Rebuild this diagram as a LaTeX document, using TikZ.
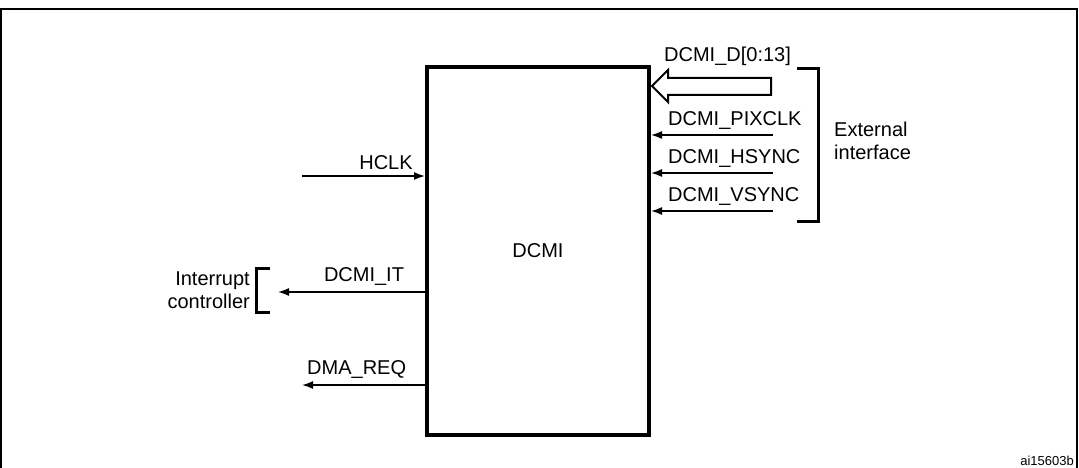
\documentclass[tikz,border=0pt]{standalone}
\usepackage{fontspec}
\setmainfont{Liberation Sans}
\usetikzlibrary{arrows.meta}
\begin{document}
\begin{tikzpicture}[x=1pt,y=-1pt,
  sig/.style={-{Latex[length=11pt,width=8pt]},line width=1.6pt},
  lbl/.style={font=\fontsize{20}{23}\selectfont,inner sep=0pt},
  brk/.style={line width=3pt}]
\useasboundingbox (0,0) rectangle (1079,468);
\draw[line width=2pt] (1,468) -- (1,9) -- (1077,9) -- (1077,468);
\node[draw,line width=4pt,minimum width=222pt,minimum height=368pt,inner sep=0pt] (dcmi) at (538,251) {};
\node[lbl] at (538,251) {DCMI};
% HCLK
\coordinate (hs) at (302,176);
\draw[sig] (hs) -- (dcmi.west |- hs);
\node[lbl,anchor=south] at (386,170) {HCLK};
% right inputs
\foreach \y/\t in {135/DCMI\_PIXCLK,173/DCMI\_HSYNC,211/DCMI\_VSYNC}{
  \coordinate (r\y) at (773,\y);
  \draw[sig] (r\y) -- (dcmi.east |- r\y);
  \node[lbl,anchor=south west] at (668,\y-5) {\t};
}
% hollow arrow
\draw[line width=2pt,fill=white] (771,78) -- (668,78) -- (668,70) -- (652,86) -- (668,102) -- (668,95) -- (771,95) -- cycle;
\node[lbl,anchor=south west] at (664,66) {DCMI\_D[0:13]};
\draw[brk] (797,69) -- (818,69) -- (818,221) -- (797,221);
\node[lbl,anchor=west,align=left] at (834,141) {External\\interface};
% DCMI_IT
\coordinate (it) at (278,292);
\draw[sig] (dcmi.west |- it) -- (it);
\node[lbl,anchor=south] at (364,286) {DCMI\_IT};
\draw[brk] (270,268) -- (256,268) -- (256,312) -- (270,312);
\node[lbl,anchor=east,align=right] at (250,290) {Interrupt\\controller};
% DMA_REQ
\coordinate (dr) at (302,385);
\draw[sig] (dcmi.west |- dr) -- (dr);
\node[lbl,anchor=south west] at (307,379) {DMA\_REQ};
\node[font=\fontsize{13}{15}\selectfont,anchor=south east,inner sep=0pt] at (1074,466) {ai15603b};
\end{tikzpicture}
\end{document}
